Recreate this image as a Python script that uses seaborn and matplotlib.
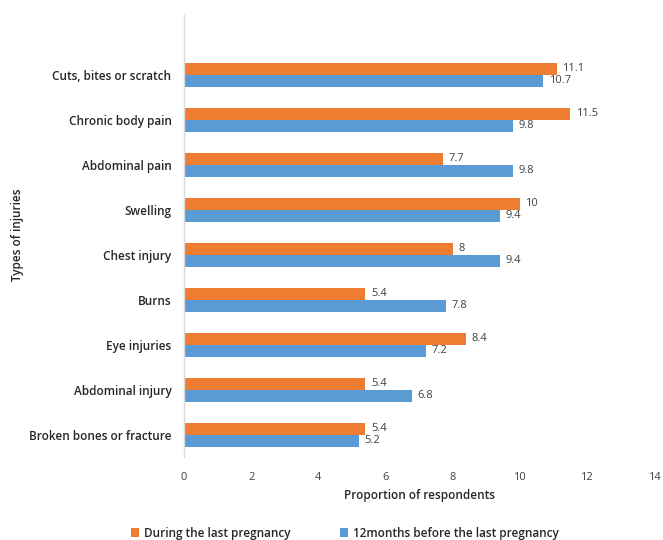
import matplotlib
matplotlib.use("Agg")
import matplotlib.pyplot as plt
import seaborn as sns
import pandas as pd

categories = ["Cuts, bites or scratch", "Chronic body pain", "Abdominal pain", "Swelling",
              "Chest injury", "Burns", "Eye injuries", "Abdominal injury", "Broken bones or fracture"]
during = [11.1, 11.5, 7.7, 10, 8, 5.4, 8.4, 5.4, 5.4]
before = [10.7, 9.8, 9.8, 9.4, 9.4, 7.8, 7.2, 6.8, 5.2]
series = ["During the last pregnancy", "12months before the last pregnancy"]
xticks = [0, 2, 4, 6, 8, 10, 12, 14]

df = pd.DataFrame({
    "cat": categories * 2,
    "val": during + before,
    "series": [series[0]] * len(categories) + [series[1]] * len(categories),
})

sns.set_theme(style="white")
plt.rcParams["font.family"] = ["Open Sans", "DejaVu Sans"]

fig = plt.figure(figsize=(6.63, 5.4), dpi=100)
ax = fig.add_axes([184 / 663, 1 - 457 / 540, 470 / 663, 442 / 540])

sns.barplot(data=df, y="cat", x="val", hue="series", order=categories, hue_order=series,
            palette=["#ED7D31", "#5B9BD5"], orient="h", width=0.53, saturation=1,
            linewidth=0, ax=ax, legend=True)

for cont in ax.containers:
    labels = [("%g" % v) for v in cont.datavalues]
    ax.bar_label(cont, labels=labels, padding=4, fontsize=8, color="#404040")

ax.set_xlim(0, 14)
ax.set_xticks(xticks)
ax.set_xticklabels([str(t) for t in xticks], fontsize=8, color="#404040")
ax.set_ylim(8.49, -1.33)
ax.tick_params(axis="y", labelsize=8.5, colors="#262626", length=0, pad=9)
ax.tick_params(axis="x", length=0, pad=11)
for lbl in ax.get_yticklabels():
    lbl.set_fontweight("semibold")

for s in ["top", "right", "bottom"]:
    ax.spines[s].set_visible(False)
ax.spines["left"].set_color("#d9d9d9")
ax.spines["left"].set_linewidth(1)

ax.set_xlabel("Proportion of respondents", fontsize=8.5, fontweight="semibold", color="#262626", labelpad=4)
ax.set_ylabel("")
fig.text(18 / 663, 1 - 235 / 540, "Types of injuries", rotation=90, ha="center", va="center",
         fontsize=8.5, fontweight="semibold", color="#262626")

handles, labs = ax.get_legend_handles_labels()
ax.get_legend().remove()
fig.legend(handles, labs, loc="center", bbox_to_anchor=(345 / 663, 1 - 533 / 540), ncol=2,
           frameon=False, handlelength=0.7, handleheight=0.7, columnspacing=4.2,
           handletextpad=0.4, prop={"weight": "semibold", "size": 8.5})

fig.savefig("out.png", dpi=100)
